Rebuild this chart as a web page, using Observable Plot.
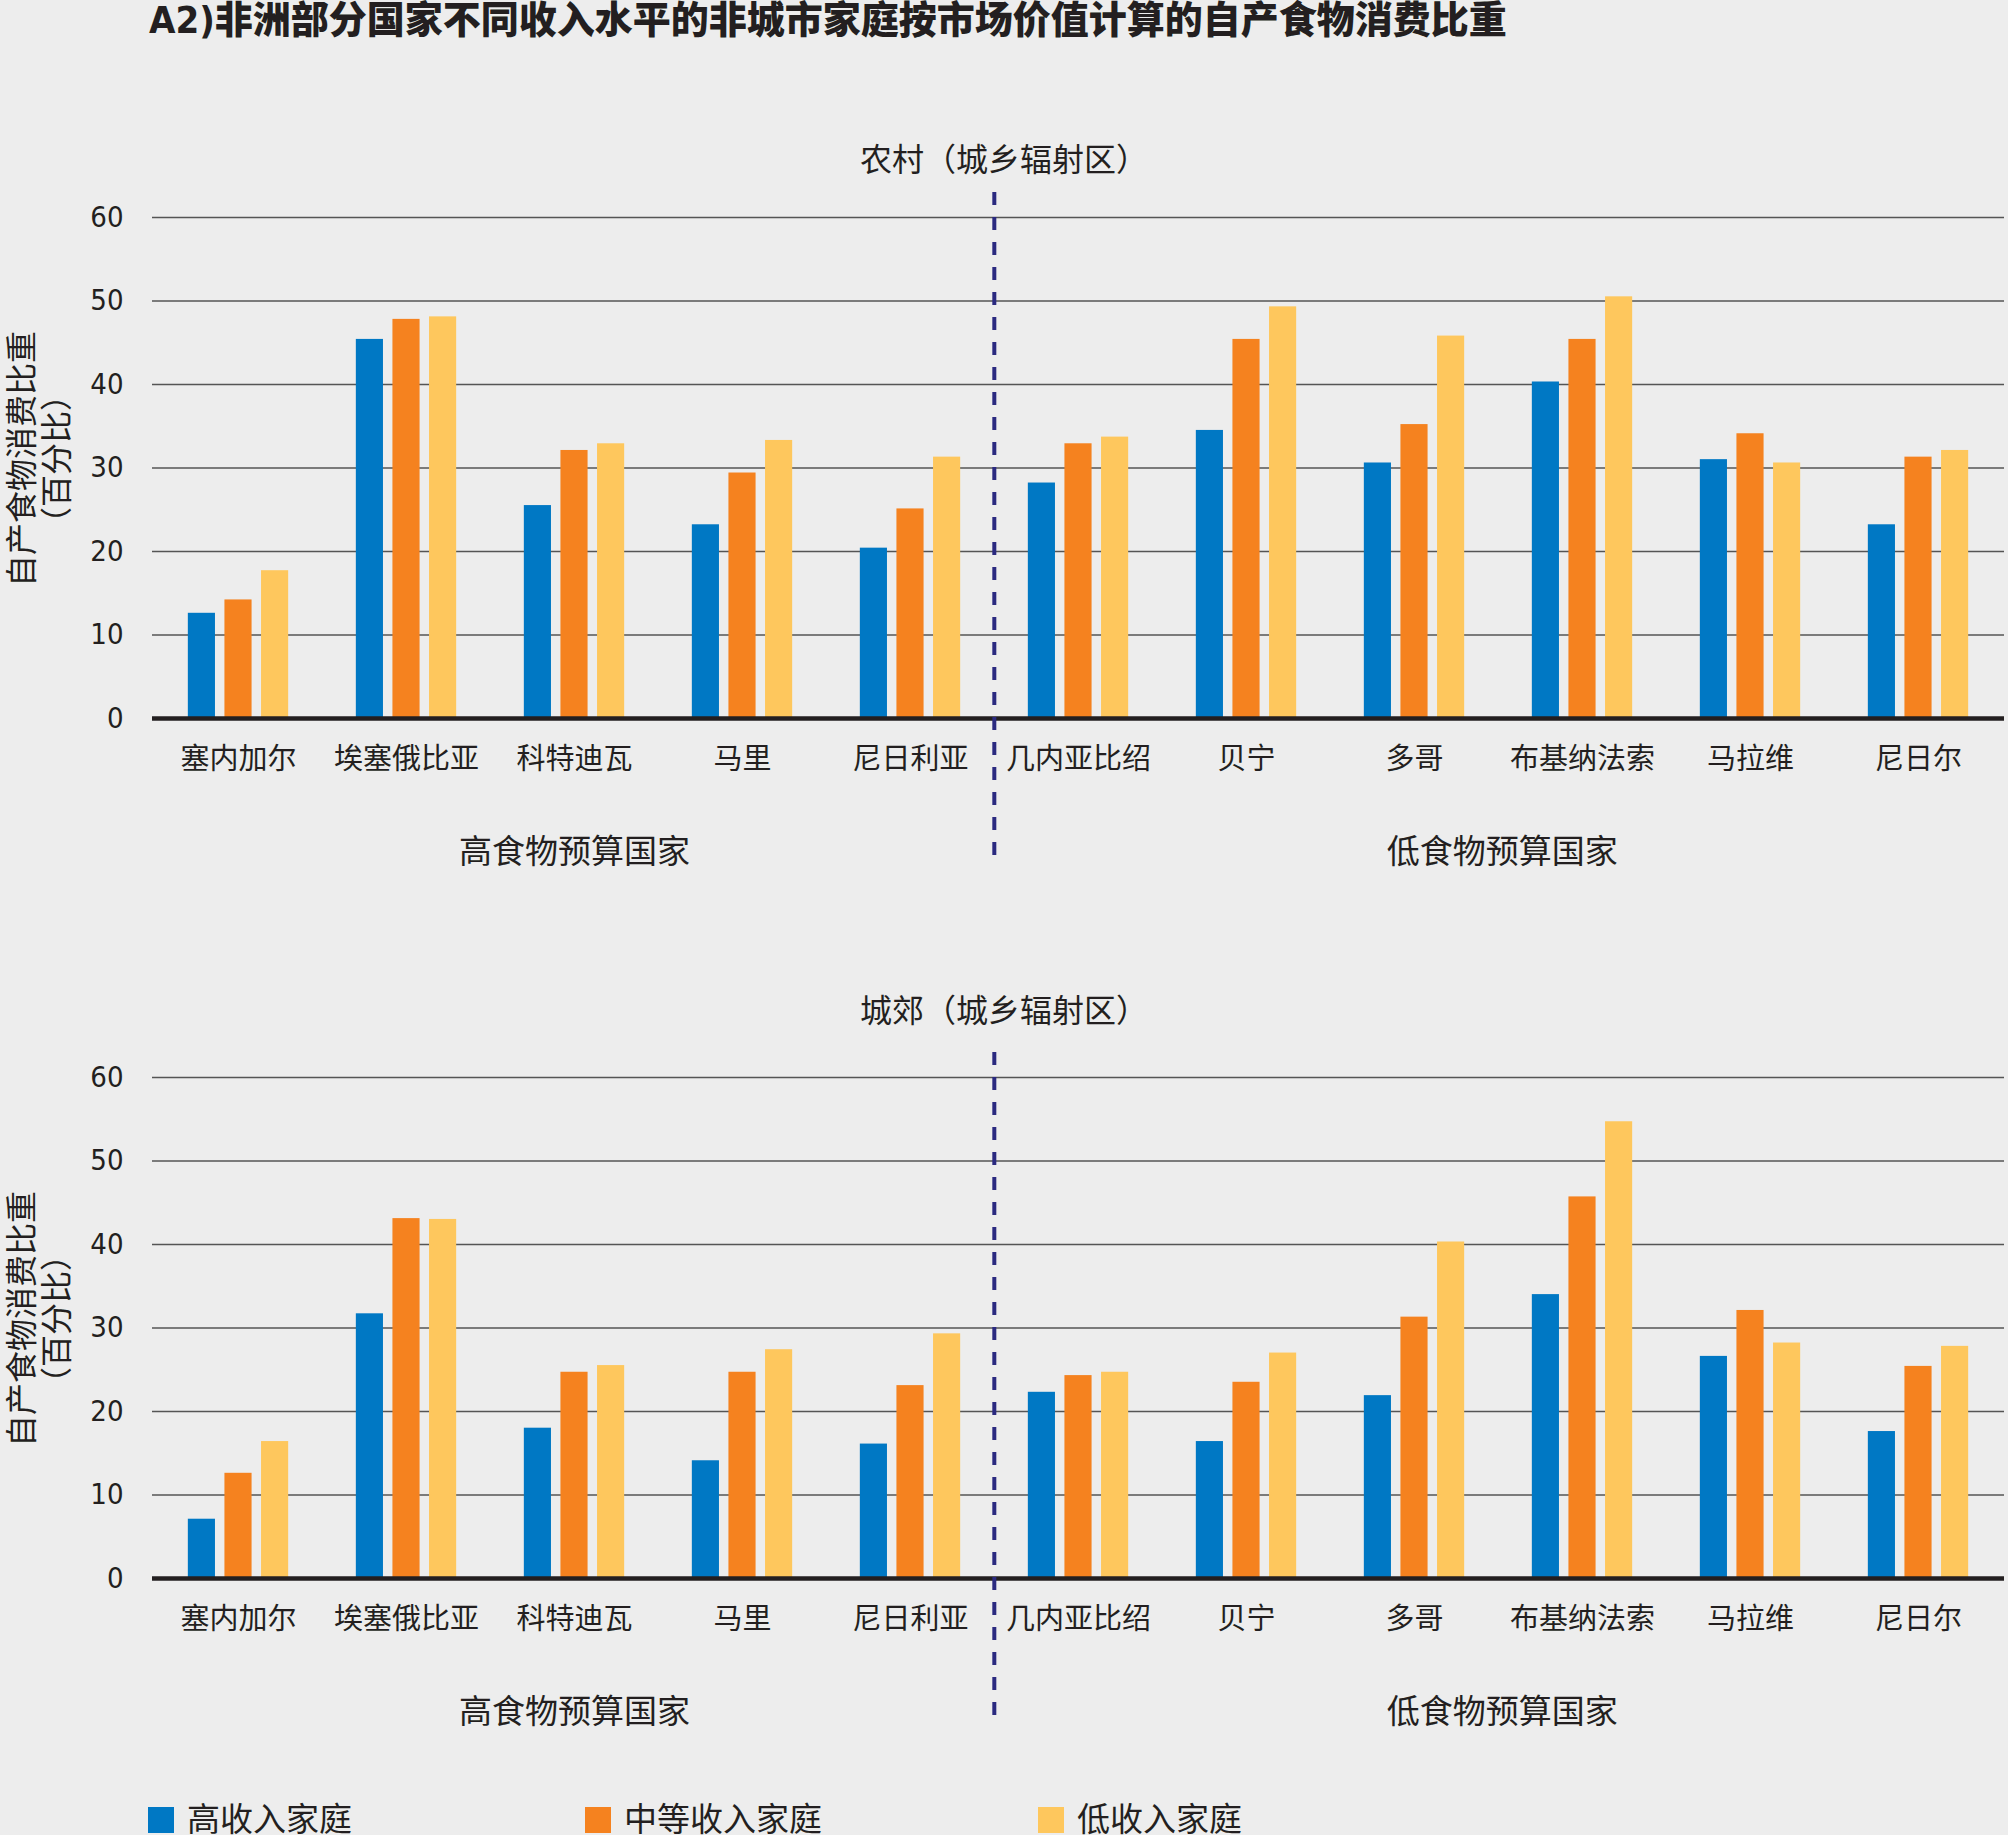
<!DOCTYPE html>
<html><head><meta charset="utf-8">
<script src="https://cdn.jsdelivr.net/npm/d3@7"></script>
<script src="https://cdn.jsdelivr.net/npm/@observablehq/plot@0.6"></script>
<style>
html,body{margin:0;padding:0;background:#ededed;}
#page{position:relative;width:2008px;height:1835px;overflow:hidden;background:#ededed;color:#231f20;font-family:"Noto Sans CJK SC",sans-serif;}
.abs{position:absolute;white-space:nowrap;}
#title{left:149px;top:1px;font-size:38px;font-weight:900;font-family:"Liberation Sans Narrow","DejaVu Sans Condensed","Noto Sans CJK SC",sans-serif;line-height:38px;}
.sub{left:0;width:2008px;text-align:center;font-size:32px;line-height:38px;}
.chart{left:0;}
.sw{width:26px;height:26px;}
.lt{font-size:33px;line-height:33px;}
</style></head>
<body><div id="page">
<div id="title" class="abs">A2)非洲部分国家不同收入水平的非城市家庭按市场价值计算的自产食物消费比重</div>
<div id="sub1" class="abs sub" style="top:138px"></div>
<div id="c1" class="abs chart" style="top:180px"></div>
<div id="sub2" class="abs sub" style="top:989px"></div>
<div id="c2" class="abs chart" style="top:1040px"></div>
<div id="legend"></div>
</div>
<script>
// ---- data ----
const countries = ["塞内加尔","埃塞俄比亚","科特迪瓦","马里","尼日利亚","几内亚比绍","贝宁","多哥","布基纳法索","马拉维","尼日尔"];
const highBudget = ["塞内加尔","埃塞俄比亚","科特迪瓦","马里","尼日利亚"];
const lowBudget = ["几内亚比绍","贝宁","多哥","布基纳法索","马拉维","尼日尔"];
const groupLabels = ["高食物预算国家","低食物预算国家"];
const incomeLevels = ["高收入家庭","中等收入家庭","低收入家庭"];
const panelTitles = ["农村（城乡辐射区）","城郊（城乡辐射区）"];
const yTicks = [0,10,20,30,40,50,60];
const yLabel = "自产食物消费比重\n（百分比）";

const ruralHigh   = [12.6, 45.4, 25.5, 23.2, 20.4, 28.2, 34.5, 30.6, 40.3, 31.0, 23.2];
const ruralMiddle = [14.2, 47.8, 32.1, 29.4, 25.1, 32.9, 45.4, 35.2, 45.4, 34.1, 31.3];
const ruralLow    = [17.7, 48.1, 32.9, 33.3, 31.3, 33.7, 49.3, 45.8, 50.5, 30.6, 32.1];

const periHigh    = [7.1, 31.7, 18.0, 14.1, 16.1, 22.3, 16.4, 21.9, 34.0, 26.6, 17.6];
const periMiddle  = [12.6, 43.1, 24.7, 24.7, 23.1, 24.3, 23.5, 31.3, 45.7, 32.1, 25.4];
const periLow     = [16.4, 43.0, 25.5, 27.4, 29.3, 24.7, 27.0, 40.3, 54.7, 28.2, 27.8];

const colors = ["#0078c4", "#f5821f", "#fec75d"];
const numFont = "'Liberation Sans Narrow', 'DejaVu Sans Condensed', 'Liberation Sans', sans-serif";

// ---- chart ----
function chart(series) {
  const W = 2008, ML = 152, MR = 4, MT = 37, MB = 163, H = 701;
  const bw = (W - ML - MR) / countries.length;
  const barW = 27.5, step = 36.6;
  const marks = [];
  marks.push(Plot.gridY(yTicks, {stroke: "#555", strokeOpacity: 1, strokeWidth: 1.6}));
  series.forEach((vals, i) => {
    const left = bw / 2 + (i - 1) * step - barW / 2;
    const rows = countries.map((c, j) => ({country: c, value: vals[j], level: incomeLevels[i]}));
    marks.push(Plot.barY(rows, {x: "country", y: "value", fill: colors[i], insetLeft: left, insetRight: bw - left - barW}));
  });
  marks.push(Plot.ruleY([0], {stroke: "#231f20", strokeWidth: 4.5}));
  marks.push(Plot.axisY(yTicks, {tickSize: 0, tickPadding: 29, fontSize: 29, fontFamily: numFont, fill: "#231f20", label: null}));
  marks.push(Plot.text(countries, {x: d => d, frameAnchor: "bottom", dy: 41, lineAnchor: "middle", fontSize: 29, fill: "#231f20"}));
  const hiMid = highBudget[Math.floor(highBudget.length / 2)];
  const loMid = lowBudget[Math.floor(lowBudget.length / 2)];
  marks.push(Plot.text([groupLabels[0]], {x: () => hiMid, text: d => d, dx: (highBudget.length % 2 ? 0 : -bw / 2), frameAnchor: "bottom", dy: 134, lineAnchor: "middle", fontSize: 33, fill: "#231f20"}));
  marks.push(Plot.text([groupLabels[1]], {x: () => loMid, text: d => d, dx: (lowBudget.length % 2 ? 0 : -bw / 2) + 4, frameAnchor: "bottom", dy: 134, lineAnchor: "middle", fontSize: 33, fill: "#231f20"}));
  marks.push(Plot.ruleX([lowBudget[0]], {dx: -bw / 2, stroke: "#2b2a80", strokeWidth: 4, strokeDasharray: "13,12", insetTop: -25, insetBottom: -137}));
  marks.push(Plot.text([yLabel], {frameAnchor: "left", dx: 39 - ML, dy: -9, rotate: -90, textAnchor: "middle", lineAnchor: "middle", lineHeight: 1.08, fontSize: 32, fill: "#231f20"}));
  return Plot.plot({
    width: W, height: H, marginLeft: ML, marginRight: MR, marginTop: MT, marginBottom: MB,
    style: {background: "transparent", fontFamily: "'Noto Sans CJK SC', sans-serif", color: "#231f20", overflow: "visible"},
    x: {domain: countries, padding: 0, axis: null},
    y: {domain: [0, 60], label: null},
    marks
  });
}

document.getElementById("sub1").textContent = panelTitles[0];
document.getElementById("sub2").textContent = panelTitles[1];
document.getElementById("c1").appendChild(chart([ruralHigh, ruralMiddle, ruralLow]));
document.getElementById("c2").appendChild(chart([periHigh, periMiddle, periLow]));

// legend
const legend = document.getElementById("legend");
const lx = [148, 585, 1038];
incomeLevels.forEach((lab, i) => {
  const s = document.createElement("div");
  s.className = "abs sw"; s.style.left = lx[i] + "px"; s.style.top = "1807px"; s.style.background = colors[i];
  legend.appendChild(s);
  const t = document.createElement("div");
  t.className = "abs lt"; t.style.left = (lx[i] + 39) + "px"; t.style.top = "1801px"; t.textContent = lab;
  legend.appendChild(t);
});
</script>
</body></html>
